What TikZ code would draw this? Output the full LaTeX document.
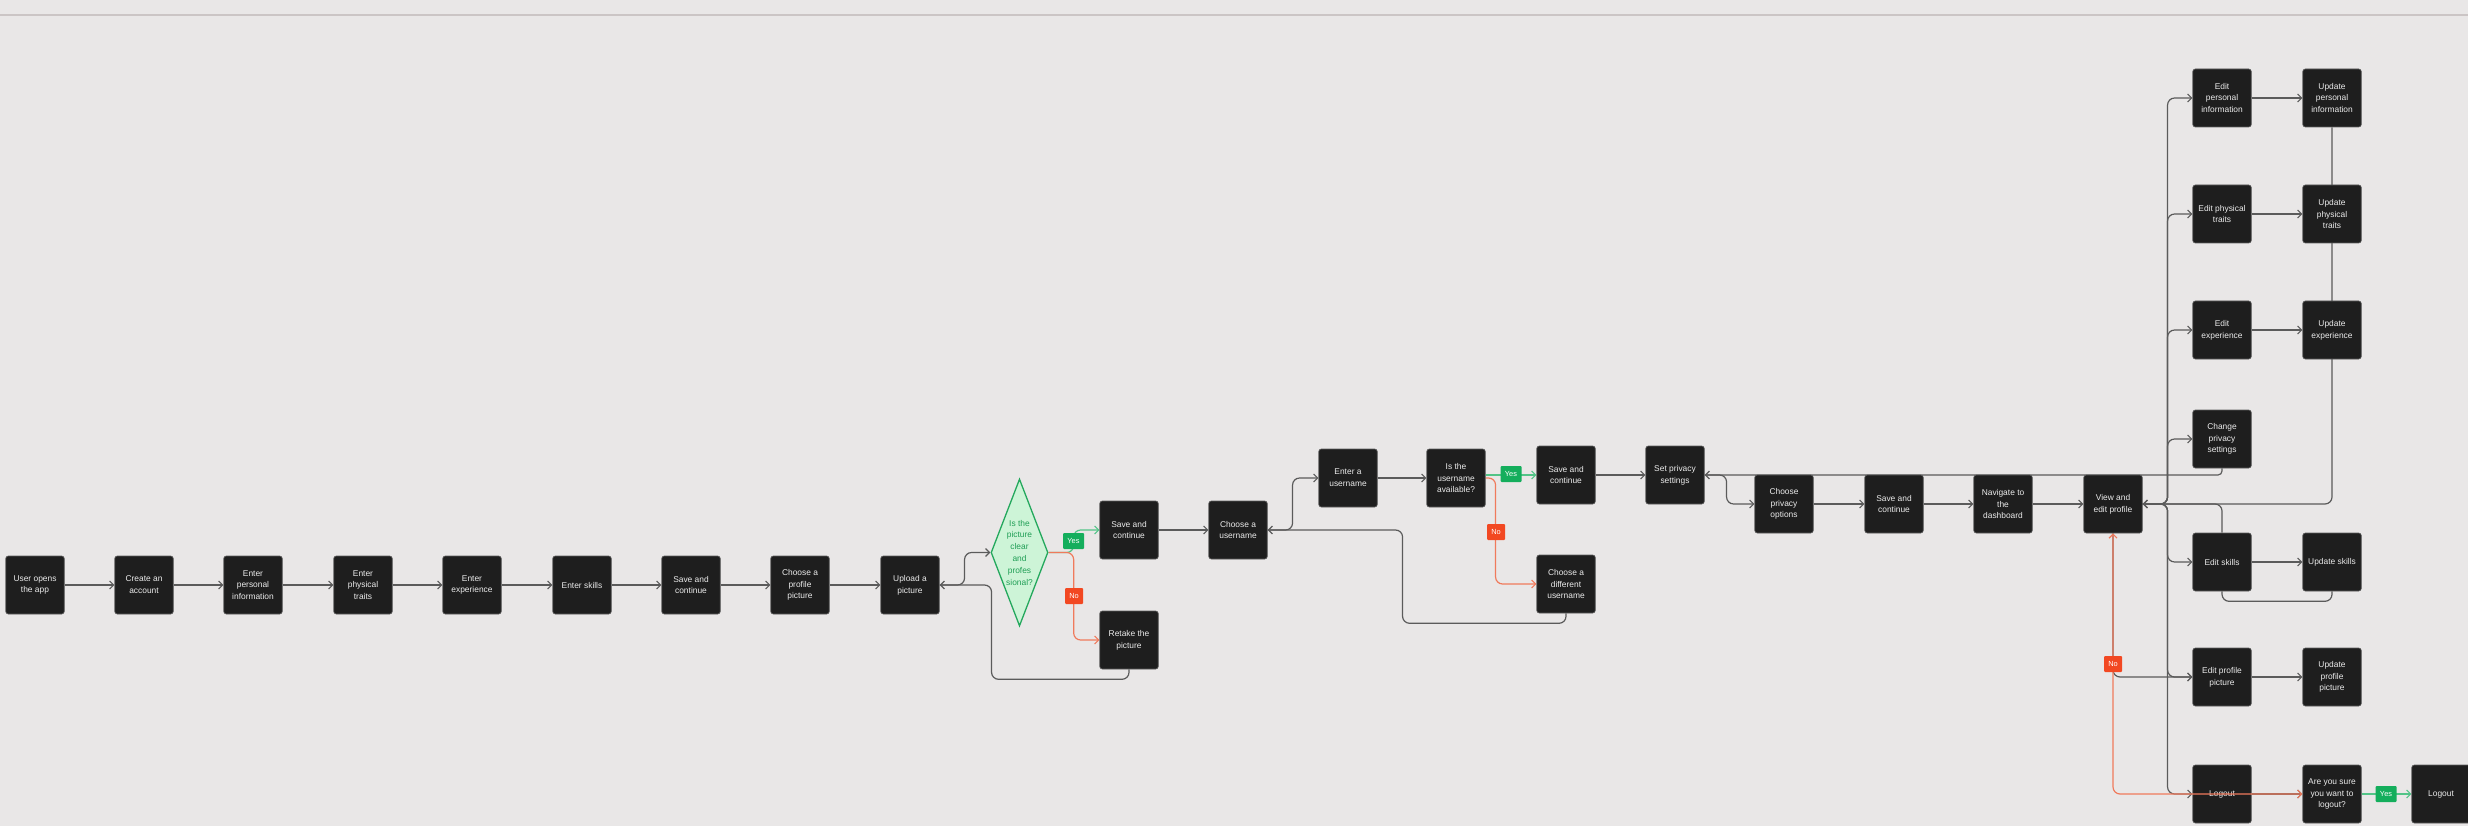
\documentclass[tikz,border=0pt]{standalone}
\usepackage{fontspec}
\setmainfont{Liberation Sans}
\usetikzlibrary{arrows.meta,shapes.geometric}
\definecolor{bgcol}{HTML}{E9E7E7}
\definecolor{topcol}{HTML}{CBC5C5}
\definecolor{boxfill}{HTML}{1E1E1E}
\definecolor{boxedge}{HTML}{5E5E5E}
\definecolor{boxtext}{HTML}{ECECEC}
\definecolor{linegray}{HTML}{5B5B5B}
\definecolor{noline}{HTML}{F07A5C}
\definecolor{nofill}{HTML}{F24822}
\definecolor{yesline}{HTML}{52C487}
\definecolor{yesfill}{HTML}{14AE5C}
\definecolor{diafill}{HTML}{CDF4D7}
\definecolor{diadraw}{HTML}{24A85D}
\definecolor{diatext}{HTML}{1F9E55}
\newcommand\mynodefont{\fontsize{8.4}{11.8}\selectfont}
\newcommand\mylabfont{\fontsize{7.4}{9}\selectfont}
\pgfdeclarelayer{bglayer}
\pgfdeclarelayer{edgelayer}
\pgfsetlayers{bglayer,edgelayer,main}
\tikzset{
  box/.style={draw=boxedge, line width=0.6pt, fill=boxfill, rounded corners=2.5pt,
    minimum width=58.5pt, minimum height=58pt, inner sep=0pt, text=boxtext,
    align=center, font=\mynodefont},
  tipa/.tip={Straight Barb[length=4pt,width=8pt]},
  conn/.style={draw=linegray, line width=1.2pt, rounded corners=7pt, -tipa},
  plainconn/.style={draw=linegray, line width=1.2pt, rounded corners=7pt},
  nopath/.style={draw=noline, line width=1.2pt, rounded corners=7pt, -tipa},
  yespath/.style={draw=yesline, line width=1.2pt, rounded corners=7pt, -tipa},
  yeslab/.style={fill=yesfill, text=white, font=\mylabfont, inner sep=0pt,
    minimum width=21pt, minimum height=16pt, rounded corners=1pt},
  nolab/.style={fill=nofill, text=white, font=\mylabfont, inner sep=0pt,
    minimum width=18pt, minimum height=16pt, rounded corners=1pt},
  diashape/.style={shape=diamond, draw=diadraw, line width=1.3pt, fill=diafill,
    minimum width=57pt, minimum height=147pt, inner sep=0pt},
  diatextstyle/.style={text=diatext, align=center, font=\mynodefont, inner sep=0pt},
}
\begin{document}
\begin{tikzpicture}[x=1pt,y=-1pt]
\useasboundingbox (0,0) rectangle (2468,826);
\begin{pgfonlayer}{bglayer}
\fill[bgcol] (-6,-6) rectangle (2474,832);
\draw[topcol, line width=1.5pt] (-6,15) -- (2474,15);
\end{pgfonlayer}

% main row
\node[box] (n1) at (35,585) {User opens\\the app};
\node[box] (n2) at (144,585) {Create an\\account};
\node[box] (n3) at (253,585) {Enter\\personal\\information};
\node[box] (n4) at (363,585) {Enter\\physical\\traits};
\node[box] (n5) at (472,585) {Enter\\experience};
\node[box] (n6) at (582,585) {Enter skills};
\node[box] (n7) at (691,585) {Save and\\continue};
\node[box] (n8) at (800,585) {Choose a\\profile\\picture};
\node[box] (n9) at (910,585) {Upload a\\picture};
\node[diashape] (d) at (1019.5,552.5) {};
\node[diatextstyle] (dt) at (d.center) {Is the\\picture\\clear\\and\\profes\\sional?};
\node[box] (sc1) at (1129,530) {Save and\\continue};
\node[box] (retake) at (1129,640) {Retake the\\picture};
\node[box] (cu) at (1238,530) {Choose a\\username};
\node[box] (eu) at (1348,478) {Enter a\\username};
\node[box] (ia) at (1456,478) {Is the\\username\\available?};
\node[box] (sc2) at (1566,475) {Save and\\continue};
\node[box] (cd) at (1566,584) {Choose a\\different\\username};
\node[box] (sp) at (1675,475) {Set privacy\\settings};
\node[box] (cp) at (1784,504) {Choose\\privacy\\options};
\node[box] (sc3) at (1894,504) {Save and\\continue};
\node[box] (nav) at (2003,504) {Navigate to\\the\\dashboard};
\node[box] (view) at (2113,504) {View and\\edit profile};
% right columns
\node[box] (ep) at (2222,98) {Edit\\personal\\information};
\node[box] (et) at (2222,214) {Edit physical\\traits};
\node[box] (ee) at (2222,330) {Edit\\experience};
\node[box] (ch) at (2222,439) {Change\\privacy\\settings};
\node[box] (es) at (2222,562) {Edit skills};
\node[box] (epp) at (2222,677) {Edit profile\\picture};
\node[box] (lo) at (2222,794) {Logout};
\node[box] (up) at (2332,98) {Update\\personal\\information};
\node[box] (ut) at (2332,214) {Update\\physical\\traits};
\node[box] (ue) at (2332,330) {Update\\experience};
\node[box] (us) at (2332,562) {Update skills};
\node[box] (upp) at (2332,677) {Update\\profile\\picture};
\node[box] (ays) at (2332,794) {Are you sure\\you want to\\logout?};
\node[box] (lo2) at (2441,794) {Logout};

\begin{pgfonlayer}{edgelayer}
\foreach \a/\b in {n1/n2,n2/n3,n3/n4,n4/n5,n5/n6,n6/n7,n7/n8,n8/n9,sc1/cu,eu/ia,sc2/sp,cp/sc3,sc3/nav,nav/view,ep/up,et/ut,ee/ue,es/us,epp/upp,lo/ays}
  \draw[conn] (\a.east) -- (\b.west);
\draw[conn] (n9.east) -- ++(25,0) |- (d.west);
\draw[conn] (retake.south) -- ++(0,10) -| ([xshift=52pt]n9.east) -- (n9.east);
\draw[yespath] (d.east) -- ++(25,0) |- (sc1.west);
\draw[nopath] (d.east) -- ++(25,0) |- (retake.west);
\draw[conn] (cu.east) -- ++(25,0) |- (eu.west);
\draw[conn] (cd.south) -- ++(0,10) -| ([xshift=135pt]cu.east) -- (cu.east);
\draw[yespath] (ia.east |- sc2.west) -- (sc2.west);
\draw[nopath] (ia.east) -- ++(10,0) |- (cd.west);
\draw[conn] (sp.east) -- ++(22,0) |- (cp.west);
\draw[conn, rounded corners=4pt] (ch.south) |- (sp.east);
\foreach \t in {ep,et,ee,ch,es,epp,lo}
  \draw[conn] (view.east) -- ++(25,0) |- (\t.west);
\draw[conn] (up.south) |- (view.east);
\draw[conn] (es.north) |- (view.east);
\draw[plainconn] (es.south) -- ++(0,10) -| (us.south);
\draw[conn] (view.south) |- (epp.west);
\draw[yespath] (ays.east) -- (lo2.west);
\end{pgfonlayer}

\draw[draw=noline, line width=1.2pt, rounded corners=7pt, tipa-tipa] (ays.west) -| (view.south);

\node[yeslab] (y1) at (1073.5,541) {Yes};
\node[nolab] (no1) at (1074,596) {No};
\node[yeslab] (y2) at (1511,474) {Yes};
\node[nolab] (no2) at (1496,532) {No};
\node[nolab] (no3) at (2113,664) {No};
\node[yeslab] (y3) at (2386,794) {Yes};
\end{tikzpicture}
\end{document}
